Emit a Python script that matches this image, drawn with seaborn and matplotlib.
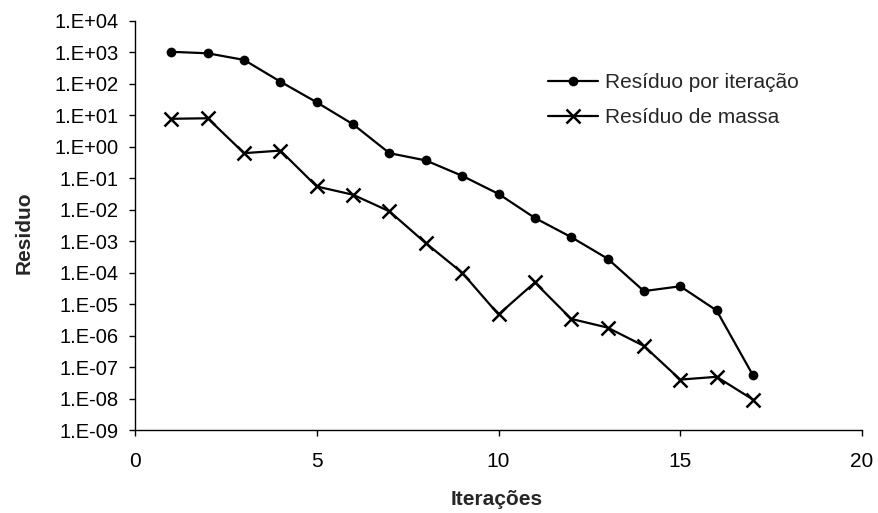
import matplotlib
matplotlib.use("Agg")
import matplotlib.pyplot as plt
import seaborn as sns
import pandas as pd
import numpy as np
from matplotlib.ticker import FuncFormatter, FixedLocator

iteracoes = [1, 2, 3, 4, 5, 6, 7, 8, 9, 10, 11, 12, 13, 14, 15, 16, 17]
residuo_iteracao = [1050, 940, 580, 118, 26, 5.2, 0.63, 0.37, 0.12, 0.032,
                    0.0055, 0.00135, 2.8e-4, 2.6e-5, 3.7e-5, 6.3e-6, 5.5e-8]
residuo_massa = [7.8, 8.1, 0.63, 0.76, 0.055, 0.030, 0.0089, 8.7e-4, 1.0e-4,
                 4.7e-6, 4.9e-5, 3.4e-6, 1.8e-6, 4.7e-7, 4.0e-8, 4.9e-8, 9.3e-9]
serie_nomes = ["Resíduo por iteração", "Resíduo de massa"]
x_ticks = [0, 5, 10, 15, 20]
y_exps = list(range(-9, 5))

sns.set_style("ticks")
plt.rcParams['font.family'] = ['Liberation Sans', 'DejaVu Sans']

fig = plt.figure(figsize=(8.79, 5.13), dpi=100)
ax = fig.add_axes([135/879, 1 - 430/513, (862-135)/879, (430-21)/513])

df1 = pd.DataFrame({"x": iteracoes, "y": residuo_iteracao})
df2 = pd.DataFrame({"x": iteracoes, "y": residuo_massa})
sns.lineplot(data=df1, x="x", y="y", ax=ax, color="black", lw=1.6,
             marker="o", markersize=7, markeredgewidth=0, label=serie_nomes[0])
sns.lineplot(data=df2, x="x", y="y", ax=ax, color="black", lw=1.6,
             marker="x", markersize=10, markeredgewidth=1.8, markeredgecolor="black",
             label=serie_nomes[1])

ax.set_yscale("log")
ax.set_xlim(0, 20)
ax.set_ylim(1e-9, 1e4)
ax.xaxis.set_major_locator(FixedLocator(x_ticks))
ax.yaxis.set_major_locator(FixedLocator([10.0**e for e in y_exps]))
ax.yaxis.set_minor_locator(FixedLocator([]))
ax.yaxis.set_major_formatter(FuncFormatter(lambda v, p: "1.E%+03d" % int(round(np.log10(v)))))

for s in ["top", "right"]:
    ax.spines[s].set_visible(False)
for s in ["left", "bottom"]:
    ax.spines[s].set_color("black")
    ax.spines[s].set_linewidth(1.0)

ax.tick_params(axis="both", direction="out", length=4, width=1, colors="black")
ax.tick_params(axis="y", labelsize=14.5, pad=8)
ax.tick_params(axis="x", labelsize=15, pad=12)

ax.set_xlabel("Iterações", fontsize=15, fontweight="bold")
ax.set_ylabel("Residuo", fontsize=15, fontweight="bold")
ax.xaxis.set_label_coords(0.497, (430 - 490) / 409)
ax.yaxis.set_label_coords((34 - 135) / 727, 0.482)

leg = ax.legend(loc="upper left", bbox_to_anchor=(540/879, 1 - 65/513),
                bbox_transform=fig.transFigure, frameon=False, fontsize=15,
                handlelength=2.4, handletextpad=0.33, labelspacing=0.75,
                borderaxespad=0)

fig.savefig("out.png", dpi=100)
